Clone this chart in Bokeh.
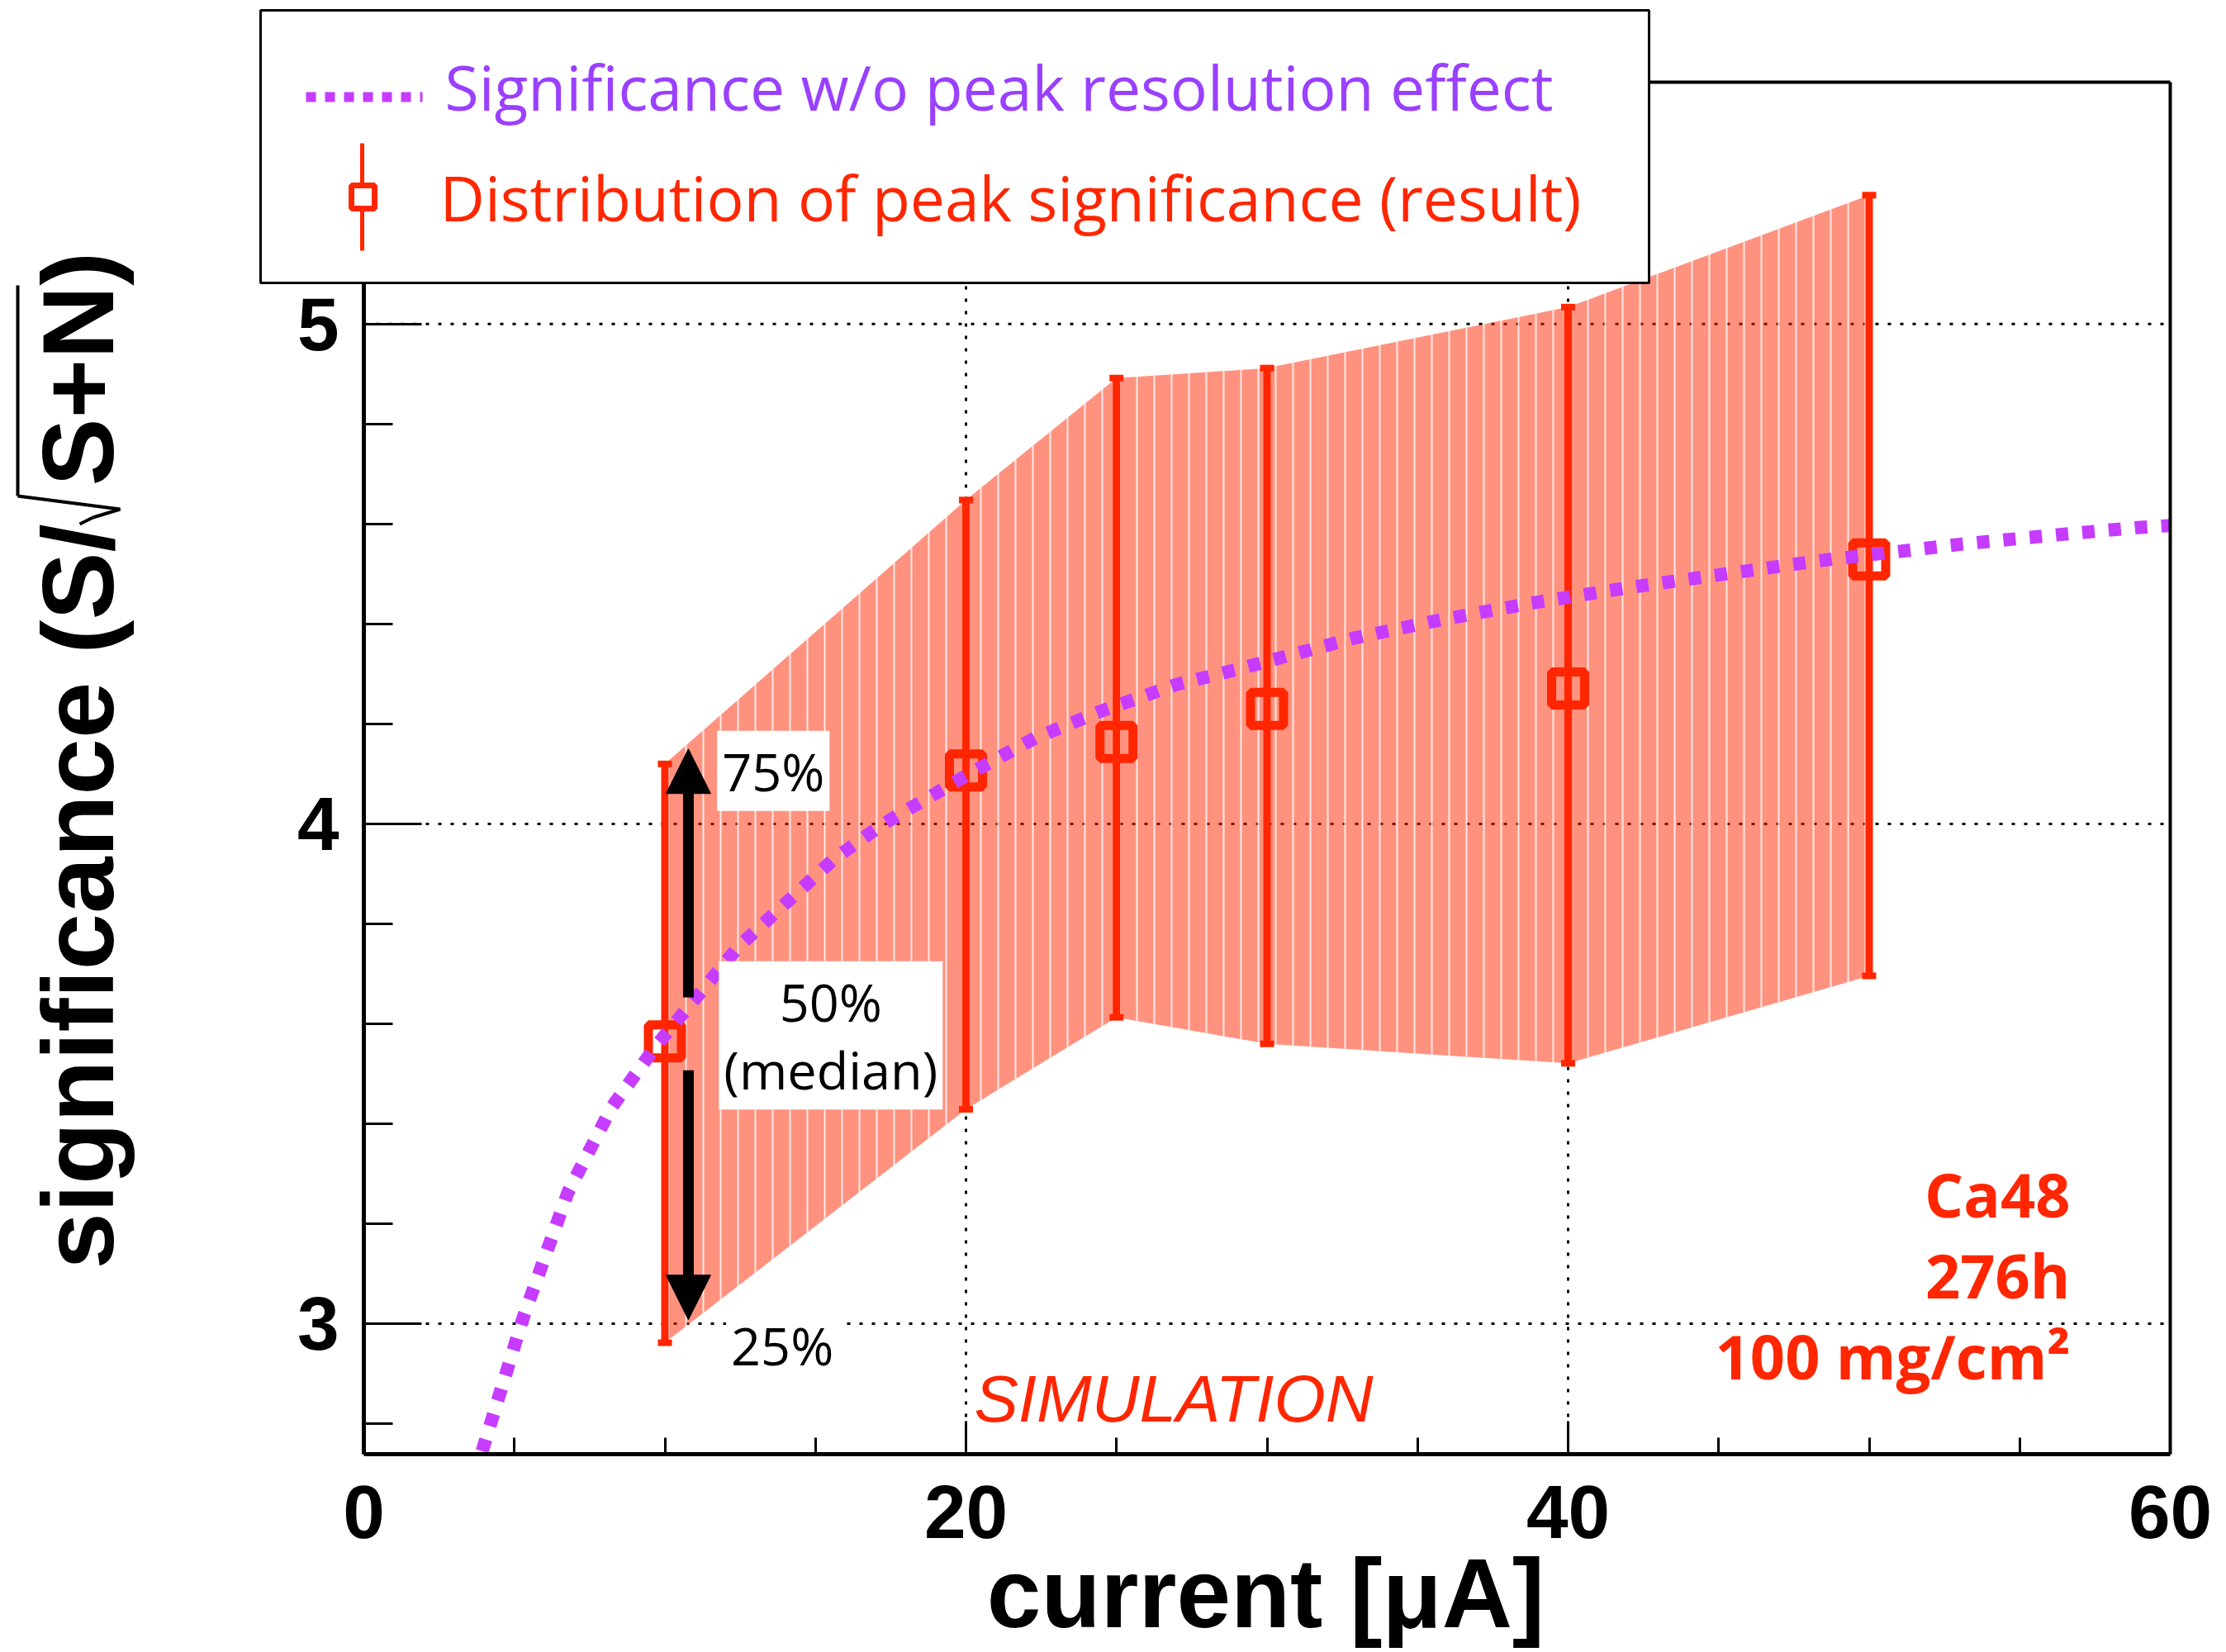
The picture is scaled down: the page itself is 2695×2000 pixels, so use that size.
import math
import numpy as np
from bokeh.plotting import figure
from bokeh.models import (Range1d, FixedTicker, Label, Arrow, NormalHead, BoxAnnotation, LinearAxis)
from bokeh.embed import file_html
from bokeh.resources import INLINE

# ---- data -------------------------------------------------------------
# beam current settings [uA] and the peak-significance distribution
current = [10, 20, 25, 30, 40, 50]
sig_median = [3.565, 4.107, 4.164, 4.230, 4.271, 4.529]
sig_q75 = [4.120, 4.648, 4.892, 4.912, 5.034, 5.258]
sig_q25 = [2.962, 3.429, 3.613, 3.560, 3.521, 3.696]

# significance without the peak-resolution effect
curve_x = [3.93, 5.27, 6.78, 8.23, 9.68, 12.45, 15.6, 17.2, 20.1, 22.3, 24.5,
           27.0, 29.0, 32.9, 35.75, 38.7, 41.5, 43.2, 48.4, 53.1, 56.0, 58.9, 60.0]
curve_y = [2.745, 3.008, 3.263, 3.433, 3.554, 3.755, 3.929, 3.998, 4.100, 4.172, 4.226,
           4.279, 4.309, 4.372, 4.408, 4.441, 4.468, 4.483, 4.527, 4.560, 4.577, 4.593, 4.597]

x_ticks = [0, 20, 40, 60]
y_ticks = [3, 4, 5]
x_minor = [5, 10, 15, 25, 30, 35, 45, 50, 55]
y_minor = [2.8, 3.2, 3.4, 3.6, 3.8, 4.2, 4.4, 4.6, 4.8, 5.2, 5.4]

# ---- geometry & style -------------------------------------------------
RED = "#ff2600"
PURPLE = "#c63cff"
PURPLE_TEXT = "#9a40ff"
ROOT_FONT = "Liberation Sans"
NOTE_FONT = "Open Sans"

W, H = 2695, 2000
XMIN, XMAX = 0, 60
YMIN, YMAX = 2.739, 5.484
# pixel box of the axes inside the canvas
AX_L, AX_R, AX_T, AX_B = 440, 2627, 99, 1760
kx = (XMAX - XMIN) / (AX_R - AX_L)
ky = (YMAX - YMIN) / (AX_B - AX_T)
x_range = Range1d(XMIN - AX_L * kx, XMAX + (W - AX_R) * kx)
y_range = Range1d(YMIN - (H - AX_B) * ky, YMAX + AX_T * ky)


def sx(px):
    """canvas x in px -> screen units"""
    return px


def sy(py):
    """canvas y in px (from the top) -> screen units (from the bottom)"""
    return H - py


p = figure(width=W, height=H, x_range=x_range, y_range=y_range,
           output_backend="svg", toolbar_location=None, min_border=0)
p.background_fill_color = "white"
p.border_fill_color = "white"
p.outline_line_color = None
p.grid.visible = False

# axes drawn at fixed data positions, framing [0, 60] x [YMIN, YMAX]
p.xaxis.fixed_location = YMIN
p.xaxis.bounds = (XMIN, XMAX)
p.yaxis.fixed_location = XMIN
p.yaxis.bounds = (YMIN, YMAX)
p.xaxis.ticker = FixedTicker(ticks=x_ticks, minor_ticks=x_minor)
p.yaxis.ticker = FixedTicker(ticks=y_ticks, minor_ticks=y_minor)
for ax in (p.xaxis[0], p.yaxis[0]):
    ax.axis_line_width = 5
    ax.axis_line_color = "black"
    ax.major_tick_out = 0
    ax.minor_tick_out = 0
    ax.major_tick_line_width = 3
    ax.minor_tick_line_width = 3
    ax.major_tick_line_color = "black"
    ax.minor_tick_line_color = "black"
    ax.major_label_text_font = ROOT_FONT
    ax.major_label_text_font_style = "bold"
    ax.major_label_text_font_size = "91px"
    ax.major_label_text_color = "black"
p.xaxis.major_label_standoff = 38
p.yaxis.major_label_standoff = 30
p.xaxis.major_tick_in = 40
p.xaxis.minor_tick_in = 20
p.yaxis.major_tick_in = 70
p.yaxis.minor_tick_in = 35

# top and right edges of the axes box
for side, loc, bnds in [("above", YMAX, (XMIN, XMAX)), ("right", XMAX, (YMIN, YMAX))]:
    edge = LinearAxis(fixed_location=loc, bounds=bnds, ticker=FixedTicker(ticks=[]),
                      axis_line_width=4, axis_line_color="black",
                      major_tick_line_color=None, minor_tick_line_color=None,
                      major_label_text_font_size="0px")
    p.add_layout(edge, side)

# dotted grid at the major ticks
grid_x = [t for t in x_ticks if XMIN < t < XMAX]
p.segment(x0=grid_x, y0=[YMIN] * len(grid_x), x1=grid_x, y1=[YMAX] * len(grid_x),
          line_color="black", line_width=3, line_dash="4 11", level="underlay")
p.segment(x0=[XMIN] * len(y_ticks), y0=y_ticks, x1=[XMAX] * len(y_ticks), y1=y_ticks,
          line_color="black", line_width=3, line_dash="4 11", level="underlay")

# ---- glyphs -----------------------------------------------------------
band_x = current + current[::-1]
band_y = sig_q75 + sig_q25[::-1]
p.patch(band_x, band_y, fill_color=RED, fill_alpha=0.5, line_alpha=0,
        hatch_pattern="vertical_line", hatch_color="white", hatch_alpha=0.8,
        hatch_scale=21, hatch_weight=2)

# quartile bars with short end caps, and the medians
p.segment(x0=current, y0=sig_q25, x1=current, y1=sig_q75, line_color=RED, line_width=9)
p.scatter(current + current, sig_q25 + sig_q75, marker="dash", size=17,
          line_color=RED, line_width=8)
p.scatter(current, sig_median, marker="square", size=40, fill_alpha=0,
          line_color=RED, line_width=11)

p.line(curve_x, curve_y, line_color=PURPLE, line_width=16, line_dash="15 17")

# ---- quartile annotations ---------------------------------------------
arrow_x = 10.78
for y0, y1 in [(3.653, 4.15), (3.507, 3.008)]:
    p.add_layout(Arrow(x_start=arrow_x, y_start=y0, x_end=arrow_x, y_end=y1,
                       start=None, line_width=13, line_color="black",
                       end=NormalHead(size=54, fill_color="black", line_color="black",
                                      line_width=1)))

for txt, x, y in [("75%", 13.6, 4.106), ("50%\n(median)", 15.51, 3.577), ("25%", 13.9, 2.957)]:
    p.add_layout(Label(x=x, y=y, text=txt, text_align="center", text_baseline="middle",
                       text_font=NOTE_FONT, text_font_size="63px", text_color="black",
                       text_line_height=0.97, background_fill_color="white",
                       background_fill_alpha=1.0, padding=6))


def screen_label(text, x, y, size, color="black", font=NOTE_FONT, style="normal",
                 align="left", angle=0.0):
    p.add_layout(Label(x=sx(x), y=sy(y), x_units="screen", y_units="screen", text=text,
                       text_font=font, text_font_style=style, text_font_size=size,
                       text_color=color, text_align=align, text_baseline="middle",
                       angle=angle))


def screen_line(x0, y0, x1, y1, color, width, dash="solid"):
    p.add_layout(Arrow(x_start=sx(x0), y_start=sy(y0), x_end=sx(x1), y_end=sy(y1),
                       start_units="screen", end_units="screen", start=None, end=None,
                       line_color=color, line_width=width, line_dash=dash))


screen_label("SIMULATION", 1179, 1693, "80px", RED, ROOT_FONT, "italic")
for txt, y in [("Ca48", 1445), ("276h", 1543), ("100 mg/cm²", 1641)]:
    screen_label(txt, 2506, y, "74px", RED, NOTE_FONT, "bold", align="right")

# ---- axis titles ------------------------------------------------------
screen_label("current [μA]", 1532, 1928, "118px", "black", ROOT_FONT, "bold", align="center")
screen_label("significance (S/", 94, 1536, "123px", "black", ROOT_FONT, "bold",
             angle=math.pi / 2)
screen_label("S+N)", 94, 588, "123px", "black", ROOT_FONT, "bold", angle=math.pi / 2)
# square-root sign
for seg in [(96, 634, 112, 626), (112, 626, 145, 616), (145, 616, 21, 600), (21, 600, 21, 345)]:
    screen_line(*seg, "black", 4)

# ---- legend -----------------------------------------------------------
p.add_layout(BoxAnnotation(left=sx(315), right=sx(1996), top=sy(12), bottom=sy(342),
                           left_units="screen", right_units="screen",
                           top_units="screen", bottom_units="screen",
                           fill_color="white", fill_alpha=1.0,
                           line_color="black", line_width=3, line_alpha=1.0))
screen_line(370, 117, 511, 117, PURPLE, 12, "12 11")
screen_line(438, 173, 438, 303, RED, 5)
p.add_layout(BoxAnnotation(left=sx(425), right=sx(453), top=sy(224), bottom=sy(252),
                           left_units="screen", right_units="screen",
                           top_units="screen", bottom_units="screen",
                           fill_color="white", fill_alpha=1.0,
                           line_color=RED, line_width=7, line_alpha=1.0))
screen_label("Significance w/o peak resolution effect", 538, 104, "75px", PURPLE_TEXT)
screen_label("Distribution of peak significance (result)", 532, 238, "75px", RED)

open("out.html", "w").write(file_html(p, INLINE))
